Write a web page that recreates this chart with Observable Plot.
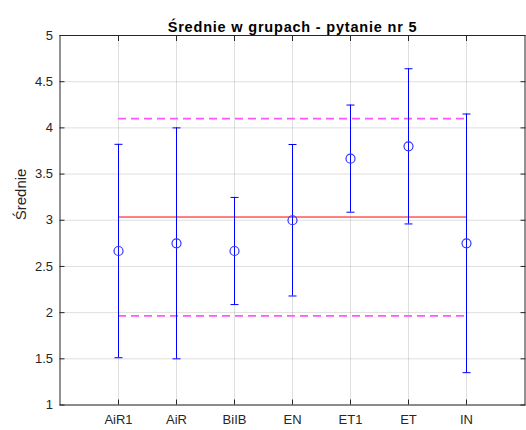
<!DOCTYPE html>
<html><head><meta charset="utf-8">
<script src="https://cdn.jsdelivr.net/npm/d3@7"></script>
<script src="https://cdn.jsdelivr.net/npm/@observablehq/plot@0.6"></script>
<style>body{margin:0;background:#fff;} svg{display:block;}</style>
</head><body><div id="chart"></div>
<script>
const categories = ["AiR1", "AiR", "BiIB", "EN", "ET1", "ET", "IN"];
const means = [2.667, 2.75, 2.667, 3.0, 3.667, 3.8, 2.75];
const halfErr = [1.155, 1.25, 0.58, 0.82, 0.58, 0.84, 1.4];
const overallMean = 3.035;
const bandLow = 1.965;
const bandHigh = 4.10;
const yTicks = [1, 1.5, 2, 2.5, 3, 3.5, 4, 4.5, 5];
const titleText = "Średnie w grupach - pytanie nr 5";
const yLabel = "Średnie";

const data = categories.map((c, i) => ({c, m: means[i], lo: means[i] - halfErr[i], hi: means[i] + halfErr[i]}));
const capSymbol = {draw(ctx, size) { ctx.moveTo(-4, 0); ctx.lineTo(4, 0); }};
const first = categories[0], last = categories[categories.length - 1];
const tickColor = "#262626";
const noText = () => "";

const chart = Plot.plot({
  width: 526, height: 430,
  marginLeft: 59.5, marginRight: 1.5, marginTop: 35, marginBottom: 25.5,
  style: {fontFamily: "'Liberation Sans', Arial, sans-serif", fontSize: "13px", color: "#262626", background: "#fff"},
  x: {type: "point", domain: categories, padding: 1},
  y: {domain: [1, 5]},
  marks: [
    Plot.gridX(categories, {stroke: "#262626", strokeOpacity: 0.15}),
    Plot.gridY(yTicks, {stroke: "#262626", strokeOpacity: 0.15}),
    Plot.ruleY([overallMean], {x1: () => first, x2: () => last, stroke: "#ff0000", strokeWidth: 1}),
    Plot.ruleY([bandLow, bandHigh], {x1: () => first, x2: () => last, stroke: "#ff55ff", strokeWidth: 1.6, strokeDasharray: "8,5"}),
    Plot.ruleX(data, {x: "c", y1: "lo", y2: "hi", stroke: "#0000ff", strokeWidth: 1}),
    Plot.dot(data, {x: "c", y: "lo", symbol: capSymbol, stroke: "#0000ff", strokeWidth: 1}),
    Plot.dot(data, {x: "c", y: "hi", symbol: capSymbol, stroke: "#0000ff", strokeWidth: 1}),
    Plot.dot(data, {x: "c", y: "m", r: 4.5, stroke: "#3333ff", strokeWidth: 1.2, fill: "none"}),
    Plot.frame({stroke: tickColor, strokeWidth: 1}),
    Plot.axisX({ticks: categories, tickSize: 0, tickPadding: 10, fontSize: 13, label: null, color: "#262626"}),
    Plot.axisX({ticks: categories, tickSize: -5, tickFormat: noText, label: null, stroke: tickColor}),
    Plot.axisX({anchor: "top", ticks: categories, tickSize: -5, tickFormat: noText, label: null, stroke: tickColor}),
    Plot.axisY({ticks: yTicks, tickSize: 0, tickPadding: 7, fontSize: 13, label: null, tickFormat: d => String(d)}),
    Plot.axisY({ticks: yTicks, tickSize: -5, tickFormat: noText, label: null, stroke: tickColor}),
    Plot.axisY({anchor: "right", ticks: yTicks, tickSize: -5, tickFormat: noText, label: null, stroke: tickColor}),
    Plot.text([titleText], {text: d => d, frameAnchor: "top", dy: -13.5, fontWeight: "bold", fontSize: 14.5, fill: "#000"}),
    Plot.text([yLabel], {text: d => d, frameAnchor: "left", dx: -39, rotate: -90, fontSize: 15, fill: "#262626"})
  ]
});
d3.select(chart).selectAll("text").filter(function() { return this.textContent === titleText; }).attr("letter-spacing", "0.8px");
document.getElementById("chart").appendChild(chart);
</script>
</body></html>
